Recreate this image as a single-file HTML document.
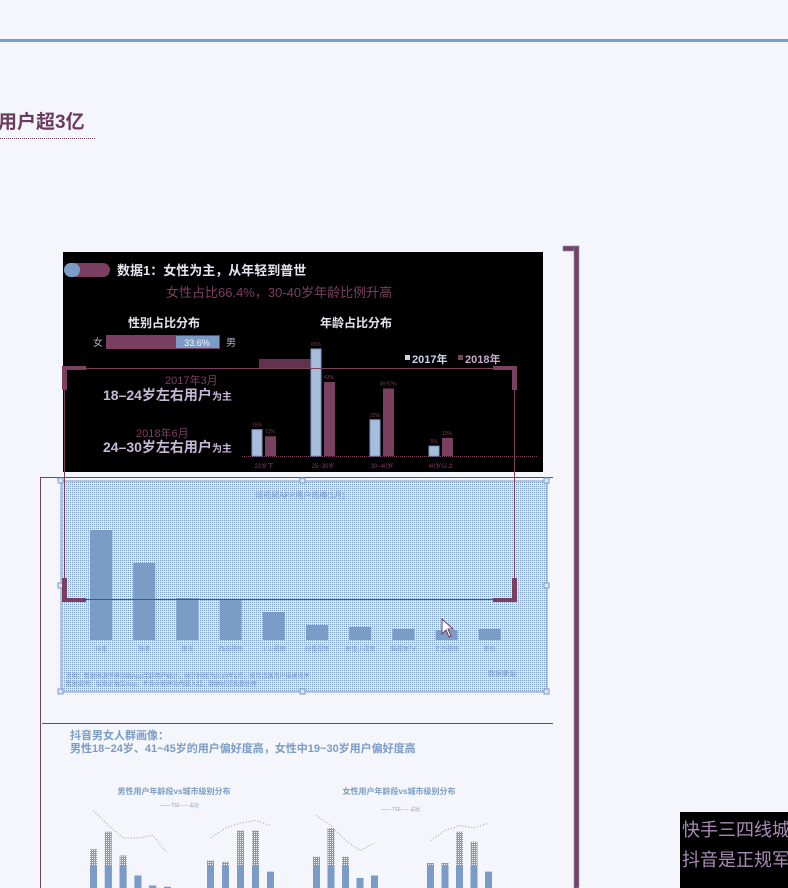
<!DOCTYPE html>
<html><head><meta charset="utf-8">
<style>
html,body{margin:0;padding:0;background:#f4f6fb;}
body{width:788px;height:888px;position:relative;overflow:hidden;font-family:"Liberation Sans","Noto Sans CJK SC",sans-serif;}
svg{position:absolute;left:0;top:0;}
text{font-family:"Liberation Sans","Noto Sans CJK SC",sans-serif;}
</style></head>
<body>
<svg width="788" height="888" viewBox="0 0 788 888">
<defs>
<pattern id="dots" width="2" height="2" patternUnits="userSpaceOnUse">
<rect width="2" height="2" fill="#dde5f1"/><rect width="1" height="1" fill="#7a9cc6"/>
</pattern>
<pattern id="dotbar" width="2" height="2" patternUnits="userSpaceOnUse">
<rect width="2" height="2" fill="#7a9cc6"/><rect width="1" height="1" fill="#f4f6fb"/>
</pattern>
</defs>
<rect x="0" y="39" width="788" height="3" fill="#7a9cc6"/>
<text x="-2" y="128" font-size="19" font-weight="bold" fill="#6b3a5e">用户超3亿</text>
<line x1="0" y1="138.5" x2="95" y2="138.5" stroke="#6b3a5e" stroke-dasharray="1 1"/>

<g>
<rect x="563" y="246" width="16" height="5" fill="#7b3f61" stroke="#7a9cc6" stroke-width="0.6"/>
<rect x="574" y="246" width="5" height="642" fill="#7b3f61" stroke="#7a9cc6" stroke-width="0.6"/>
</g>

<g>
<rect x="63" y="252" width="480" height="220" fill="#000"/>
<rect x="64" y="263" width="46" height="14" rx="7" fill="#7b3f61"/>
<rect x="64" y="263" width="16" height="14" rx="7" fill="#7a9cc6"/>
<text x="117" y="275" font-size="13" font-weight="bold" fill="#e4e4ee">数据1：女性为主，从年轻到普世</text>
<text x="166" y="297" font-size="13" fill="#7b3f61">女性占比66.4%，30-40岁年龄比例升高</text>
<text x="128" y="327" font-size="12" font-weight="bold" fill="#e4e4ee">性别占比分布</text>
<text x="320" y="327" font-size="12" font-weight="bold" fill="#e4e4ee">年龄占比分布</text>
<text x="93" y="346" font-size="10" fill="#b8a8c8">女</text>
<rect x="106" y="335" width="114" height="14" fill="#7b3f61"/>
<rect x="176" y="336" width="43" height="12" fill="#7a9cc6"/>
<text x="197" y="346" font-size="9" fill="#f4f6fb" text-anchor="middle">33.6%</text>
<text x="226" y="346" font-size="10" fill="#b8a8c8">男</text>
<rect x="405" y="355" width="5" height="5" fill="#c8d4ea"/>
<text x="412" y="363" font-size="11" font-weight="bold" fill="#c8d4ea">2017年</text>
<rect x="458" y="355" width="5" height="5" fill="#7b3f61"/>
<text x="465" y="363" font-size="11" font-weight="bold" fill="#c8a8c8">2018年</text>
<rect x="259" y="359" width="56" height="9" fill="#7b3f61" opacity="0.8"/>
<text x="165" y="384" font-size="11" fill="#7b3f61">2017年3月</text>
<text x="103" y="400" font-size="14" font-weight="bold" fill="#c8b8d8">18–24岁左右用户<tspan font-size="10">为主</tspan></text>
<text x="136" y="437" font-size="11" fill="#7b3f61">2018年6月</text>
<text x="103" y="452" font-size="14" font-weight="bold" fill="#c8b8d8">24–30岁左右用户<tspan font-size="10">为主</tspan></text>
<line x1="242" y1="456.5" x2="537" y2="456.5" stroke="#7b3f61" stroke-dasharray="1 1"/>
<g id="agechart"></g>
</g>

<g>
<line x1="40" y1="477.5" x2="553" y2="477.5" stroke="#7b3f61"/>
<line x1="40.5" y1="477" x2="40.5" y2="888" stroke="#7b3f61"/>
<line x1="42" y1="723.5" x2="553" y2="723.5" stroke="#7b3f61"/>
</g>

<g>
<rect x="61" y="481" width="486" height="211" fill="url(#dots)" stroke="#7a9cc6" stroke-width="1"/>
<text x="300" y="498" font-size="8" fill="#7a9cc6" text-anchor="middle">短视频APP用户规模(1月)</text>
<g id="appchart"></g>
<text x="66" y="678" font-size="6" fill="#7a9cc6">注释：数据来源于移动端App活跃用户统计，统计时间为2019年1月，按月活跃用户规模排序</text>
<text x="66" y="686" font-size="6" fill="#7a9cc6">数据说明：仅统计独立App，不含小程序及内嵌入口，数据经过去重处理</text>
<text x="488" y="676" font-size="7" fill="#7a9cc6">数据来源</text>
<g fill="#dce5f2" stroke="#7a9cc6" stroke-width="1">
<rect x="58" y="478" width="5" height="5"/><rect x="300" y="478" width="5" height="5"/><rect x="544" y="478" width="5" height="5"/>
<rect x="58" y="583" width="5" height="5"/><rect x="544" y="583" width="5" height="5"/>
<rect x="58" y="689" width="5" height="5"/><rect x="300" y="689" width="5" height="5"/><rect x="544" y="689" width="5" height="5"/>
</g>
</g>

<g>
<rect x="64.5" y="368.5" width="450" height="231" fill="none" stroke="#7b3f61" stroke-width="1"/>
<rect x="62" y="366" width="5" height="24" fill="#7b3f61"/>
<rect x="62" y="366" width="24" height="4" fill="#7b3f61"/>
<rect x="512" y="366" width="5" height="24" fill="#7b3f61"/>
<rect x="493" y="366" width="24" height="4" fill="#7b3f61"/>
<rect x="62" y="578" width="5" height="24" fill="#7b3f61"/>
<rect x="62" y="598" width="24" height="4" fill="#7b3f61"/>
<rect x="512" y="578" width="5" height="24" fill="#7b3f61"/>
<rect x="493" y="598" width="24" height="4" fill="#7b3f61"/>
</g>
<path d="M442 619 L442 634 L446 630 L449 637 L451 636 L448 629 L453 629 Z" fill="#fff" stroke="#6b3a5e" stroke-width="1"/>

<g>
<text x="70" y="739" font-size="11" font-weight="bold" fill="#7a9cc6">抖音男女人群画像：</text>
<text x="70" y="752" font-size="11" font-weight="bold" fill="#7a9cc6">男性18~24岁、41~45岁的用户偏好度高，女性中19~30岁用户偏好度高</text>
<text x="174" y="794" font-size="8" font-weight="bold" fill="#7a9cc6" text-anchor="middle">男性用户年龄段vs城市级别分布</text>
<text x="399" y="794" font-size="8" font-weight="bold" fill="#7a9cc6" text-anchor="middle">女性用户年龄段vs城市级别分布</text>
<text x="160" y="807" font-size="5" fill="#7a9cc6">—— TGI  ---- 占比</text>
<text x="381" y="811" font-size="5" fill="#7a9cc6">—— TGI  ---- 占比</text>
<g id="portrait"></g>
</g>

<g>
<rect x="680" y="812" width="108" height="76" fill="#000"/>
<text x="682" y="836" font-size="18" fill="#a98bb6">快手三四线城</text>
<text x="682" y="866" font-size="18" fill="#a98bb6">抖音是正规军</text>
</g>
</svg>
<script>
// Age chart data
const ageCats = ["23岁下","25~30岁","30~40岁","40岁以上"];
const age2017 = [16, 65, 22, 6];
const age2018 = [12, 45, 41, 11];
const age2017Labels = ["15%","65%","22%","5%"];
const age2018Labels = ["11%","43%","38.97%","10%"];
// App chart data
const appCats = ["抖音","快手","微视","西瓜视频","火山视频","好看视频","刷宝小视频","梨视频TV","土豆视频","秒拍"];
const appVals = [110, 77, 42, 41, 28, 15, 13, 11, 10, 11];
// Portrait charts data
const maleBarsA = [31, 45, 26, 10, 2, 1];
const maleBarsB = [22, 21, 46, 46, 13];
const femaleBarsA = [25, 48, 25, 8, 10];
const femaleBarsB = [20, 20, 45, 37, 13];
const maleLineA = [62, 50, 40, 40, 42, 28];
const maleLineB = [40, 48, 52, 54, 50];
const femaleLineA = [58, 50, 38, 30, 36];
const femaleLineB = [38, 46, 50, 48, 52];

const NS = "http://www.w3.org/2000/svg";
function mk(tag, attrs, parent){const e=document.createElementNS(NS,tag);for(const k in attrs)e.setAttribute(k,attrs[k]);parent.appendChild(e);return e;}

const ageBase = 456, agePx = 107/65;
const ageX = i => 252 + i*59;
const ageY = v => ageBase - v*agePx;
const ag = document.getElementById('agechart');
ageCats.forEach((c,i)=>{
  const b1 = mk('rect',{x:ageX(i),y:ageY(age2017[i]),width:10,height:ageBase-ageY(age2017[i]),fill:'#a8bcdc',stroke:'#7a9cc6'},ag);
  
  
  const b2 = mk('rect',{x:ageX(i)+13,y:ageY(age2018[i]),width:11,height:ageBase-ageY(age2018[i]),fill:'#7b3f61'},ag);
  
  
  const t1 = mk('text',{x:ageX(i)+5,y:ageY(age2017[i])-3,'font-size':5,fill:'#7b3f61','text-anchor':'middle'},ag);t1.textContent=age2017Labels[i];
  
  
  const t2 = mk('text',{x:ageX(i)+18,y:ageY(age2018[i])-3,'font-size':5,fill:'#7b3f61','text-anchor':'middle'},ag);t2.textContent=age2018Labels[i];
  
  
  const tl = mk('text',{x:ageX(i)+12,y:468,'font-size':6,fill:'#7b3f61','text-anchor':'middle'},ag);tl.textContent=c;
  
  
});

const appBase = 640;
const appX = i => 90 + i*43.2;
const appY = v => appBase - v;
const ap = document.getElementById('appchart');
appCats.forEach((c,i)=>{
  const b = mk('rect',{x:appX(i),y:appY(appVals[i]),width:22,height:appBase-appY(appVals[i]),fill:'#7a9cc6'},ap);
  
  
  const t = mk('text',{x:appX(i)+11,y:651,'font-size':6,fill:'#7a9cc6','text-anchor':'middle'},ap);t.textContent=c;
  
  
});

const pBase = 888, pPx = 1.25;
const pY = v => pBase - v*pPx;
const pg = document.getElementById('portrait');
function drawGroup(vals, lineVals, x0, step, name){
  const pts=[];
  vals.forEach((v,i)=>{
    const x = x0 + i*step, y = pY(v);
    const b = mk('rect',{x:x,y:y,width:7,height:pBase-y,fill:'url(#dotbar)'},pg);
    
    
    const sy = Math.max(y, pBase - Math.min(v,18)*pPx);
    const s = mk('rect',{x:x,y:sy,width:7,height:pBase-sy,fill:'#7a9cc6'},pg);
    
    
    pts.push((x+3.5)+','+pY(lineVals[i]));
  });
  const l = mk('polyline',{points:pts.join(' '),fill:'none',stroke:'#7a9cc6','stroke-width':1,'stroke-dasharray':'1 2'},pg);
  
  
}
drawGroup(maleBarsA, maleLineA, 90, 14.8, 'male-a');
drawGroup(maleBarsB, maleLineB, 207, 15, 'male-b');
drawGroup(femaleBarsA, femaleLineA, 313, 14.5, 'female-a');
drawGroup(femaleBarsB, femaleLineB, 427, 14.5, 'female-b');
</script>
</body></html>
